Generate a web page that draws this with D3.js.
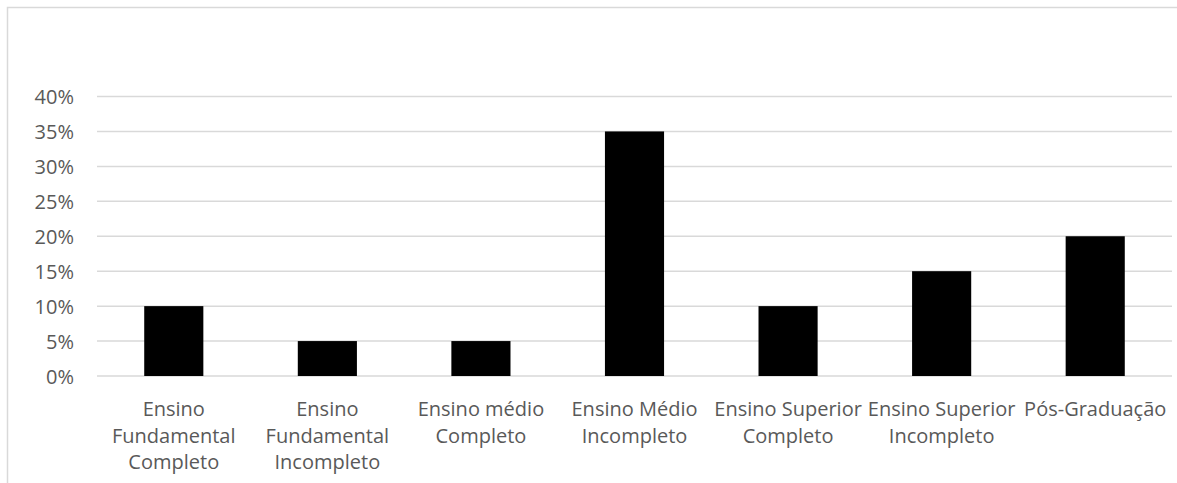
<!DOCTYPE html>
<html>
<head>
<meta charset="utf-8">
<script src="https://cdn.jsdelivr.net/npm/d3@7"></script>
<style>
  html, body { margin: 0; padding: 0; background: #fff; }
  svg { display: block; }
  text { font-family: "Open Sans", sans-serif; fill: #595959; }
</style>
</head>
<body>
<svg id="chart" width="1177" height="483"></svg>
<script>
const categories = [
  "Ensino Fundamental Completo",
  "Ensino Fundamental Incompleto",
  "Ensino médio Completo",
  "Ensino Médio Incompleto",
  "Ensino Superior Completo",
  "Ensino Superior Incompleto",
  "Pós-Graduação"
];
const values = [10, 5, 5, 35, 10, 15, 20];
const yTicks = [0, 5, 10, 15, 20, 25, 30, 35, 40];

const W = 1177, H = 483;
const plot = { left: 97, right: 1172, top: 96.5, bottom: 376 };

const svg = d3.select("#chart");

// outer chart border (cropped at right and bottom)
svg.append("rect")
  .attr("x", 7.5).attr("y", 7.5)
  .attr("width", W + 20).attr("height", H + 20)
  .attr("fill", "none").attr("stroke", "#d9d9d9").attr("stroke-width", 1.5);

const x = d3.scaleBand()
  .domain(categories)
  .range([plot.left, plot.right])
  .paddingInner(0.615)
  .paddingOuter(0.3075);

const y = d3.scaleLinear().domain([0, 40]).range([plot.bottom, plot.top]);

// gridlines
svg.append("g").selectAll("line").data(yTicks).join("line")
  .attr("x1", plot.left).attr("x2", plot.right)
  .attr("y1", d => y(d)).attr("y2", d => y(d))
  .attr("stroke", "#d9d9d9").attr("stroke-width", 1.5);

// y axis labels
const yAxis = d3.axisLeft(y).tickValues(yTicks).tickFormat(d => d + "%").tickSize(0).tickPadding(0);
const yg = svg.append("g").attr("transform", `translate(74,0)`).call(yAxis);
yg.select(".domain").remove();
yg.selectAll("text")
  .attr("font-family", "Open Sans, sans-serif")
  .attr("font-size", 20)
  .attr("fill", "#595959")
  .attr("dy", "0.36em");

// bars
svg.append("g").selectAll("rect").data(values).join("rect")
  .attr("x", (d, i) => x(categories[i]))
  .attr("width", x.bandwidth())
  .attr("y", d => y(d))
  .attr("height", d => y(0) - y(d))
  .attr("fill", "#000");

// x labels with wrapping
const maxW = 160;
const lblG = svg.append("g");
categories.forEach(cat => {
  const cx = x(cat) + x.bandwidth() / 2;
  const t = lblG.append("text")
    .attr("x", cx).attr("y", 416)
    .attr("text-anchor", "middle")
    .attr("font-size", 20);
  const words = cat.split(" ");
  let lines = [];
  let cur = [];
  const probe = lblG.append("text").attr("font-size", 20);
  words.forEach(w => {
    const test = cur.concat([w]).join(" ");
    probe.text(test);
    if (probe.node().getComputedTextLength() > maxW && cur.length) {
      lines.push(cur.join(" "));
      cur = [w];
    } else {
      cur.push(w);
    }
  });
  if (cur.length) lines.push(cur.join(" "));
  probe.remove();
  lines.forEach((ln, i) => {
    t.append("tspan").attr("x", cx).attr("y", 416 + i * 26.5).text(ln);
  });
});
</script>
</body>
</html>
